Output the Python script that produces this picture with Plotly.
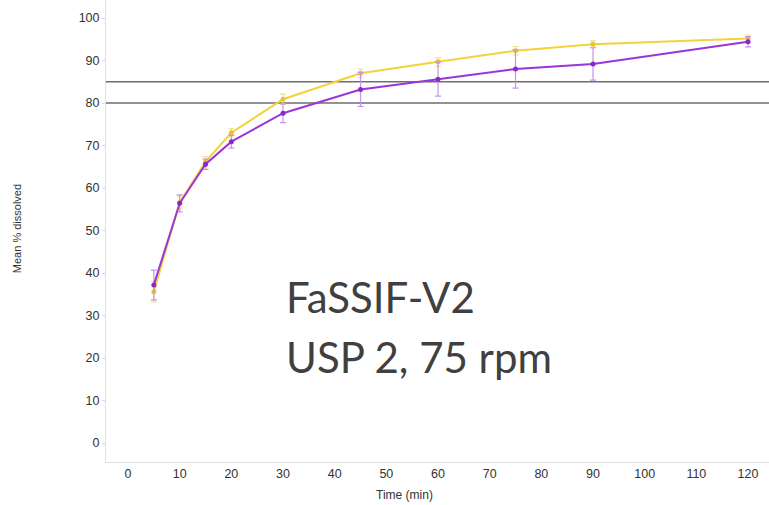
import plotly.graph_objects as go

time_min = [5, 10, 15, 20, 30, 45, 60, 75, 90, 120]
yellow_mean = [35.6, 56.6, 66.2, 73.0, 80.9, 87.0, 89.7, 92.3, 93.8, 95.2]
yellow_err = [2.4, 1.5, 1.2, 1.0, 1.2, 1.0, 1.0, 1.0, 0.8, 0.8]
purple_mean = [37.2, 56.4, 65.6, 70.9, 77.6, 83.2, 85.6, 88.0, 89.2, 94.4]
purple_err = [3.5, 2.0, 1.2, 1.5, 2.2, 4.0, 4.0, 4.5, 3.8, 1.2]
ref_lines = [85, 80]
x_ticks = list(range(0, 121, 10))
y_ticks = list(range(0, 101, 10))
label_lines = ["FaSSIF-V2", "USP 2, 75 rpm"]

fig = go.Figure()
fig.add_trace(go.Scatter(
    x=time_min, y=yellow_mean, mode="lines+markers",
    line=dict(color="#F2D33C", width=2),
    marker=dict(color="#E8C530", size=5),
    error_y=dict(type="data", array=yellow_err, color="#F5E08A", thickness=1.2, width=3),
    showlegend=False))
fig.add_trace(go.Scatter(
    x=time_min, y=purple_mean, mode="lines+markers",
    line=dict(color="#9A35D8", width=2),
    marker=dict(color="#8A28C8", size=5),
    error_y=dict(type="data", array=purple_err, color="#C893EE", thickness=1.2, width=3),
    showlegend=False))

for v in ref_lines:
    fig.add_shape(type="line", xref="paper", x0=0, x1=1, yref="y", y0=v, y1=v,
                  line=dict(color="#6E6E6E", width=1.5), layer="below")

fig.add_annotation(text=label_lines[0], xref="paper", yref="paper", x=0.268, y=0.357,
                   xanchor="left", yanchor="middle", showarrow=False,
                   font=dict(family="Lato", size=42, color="#404040"))
fig.add_annotation(text=label_lines[1], xref="paper", yref="paper", x=0.268, y=0.227,
                   xanchor="left", yanchor="middle", showarrow=False,
                   font=dict(family="Lato", size=42, color="#404040"))

fig.add_annotation(text="Mean % dissolved", xref="paper", yref="paper", x=-0.135, y=0.505,
                   textangle=-90, showarrow=False, xanchor="center", yanchor="middle",
                   font=dict(family="Liberation Sans", size=11, color="#333333"))
fig.add_annotation(text="Time (min)", xref="x", yref="paper", x=53.5, y=-0.0714,
                   showarrow=False, xanchor="center", yanchor="middle",
                   font=dict(family="Liberation Sans", size=12, color="#333333"))

fig.update_xaxes(range=[-4.26, 124.06], tickvals=x_ticks, showgrid=False, zeroline=False,
                 showline=True, linecolor="#E0E0E0", linewidth=1, ticks="",
                 tickfont=dict(family="Liberation Sans", size=12.5, color="#333333"))
fig.update_yaxes(range=[-4.47, 104.24], tickvals=y_ticks, showgrid=False, zeroline=False,
                 showline=True, linecolor="#E0E0E0", linewidth=1, ticks="outside",
                 ticklen=3, tickcolor="#DDDDDD",
                 tickfont=dict(family="Liberation Sans", size=12.5, color="#333333"))

fig.update_layout(width=769, height=505, margin=dict(l=106, r=0, t=0, b=43),
                  plot_bgcolor="white", paper_bgcolor="white")

fig.write_html("out.html")
